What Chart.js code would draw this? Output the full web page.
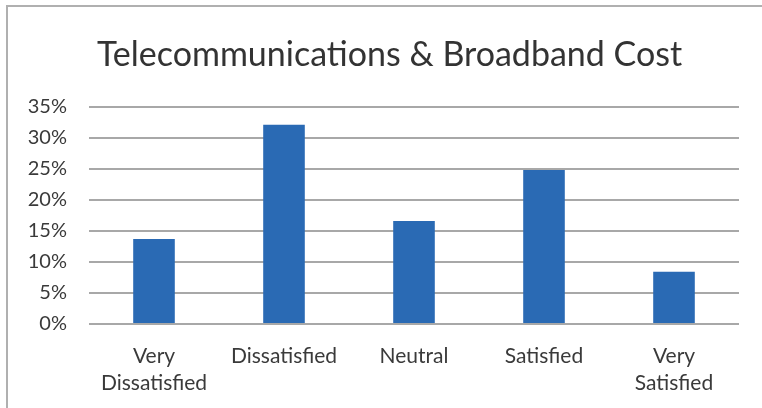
<!DOCTYPE html>
<html>
<head>
<meta charset="utf-8">
<script src="https://cdn.jsdelivr.net/npm/chart.js@4"></script>
<style>
html,body{margin:0;padding:0;background:#fff;}
#wrap{position:relative;width:762px;height:408px;}
#frame{position:absolute;left:6px;top:5px;right:0;bottom:0;border-left:2px solid #b0b0b0;border-top:2px solid #b0b0b0;pointer-events:none;}
</style>
</head>
<body>
<div id="wrap">
<canvas id="c" width="762" height="408"></canvas>
<div id="frame"></div>
</div>
<script>
const chartTitle = 'Telecommunications & Broadband Cost';
const categories = [['Very','Dissatisfied'], 'Dissatisfied', 'Neutral', 'Satisfied', ['Very','Satisfied']];
const percentages = [13.7, 32.1, 16.6, 24.8, 8.4];
const yTicks = [0, 5, 10, 15, 20, 25, 30, 35];

const FONT = 'Lato, "Open Sans", sans-serif';

// shift the title block so it is centred where the reference centres it
const titleShift = {
  id: 'titleShift',
  afterLayout(chart) {
    const t = chart.titleBlock;
    if (t) { t.left += 20; t.right += 20; }
  }
};

new Chart(document.getElementById('c'), {
  type: 'bar',
  data: {
    labels: categories,
    datasets: [{
      data: percentages,
      backgroundColor: '#2a6ab4',
      categoryPercentage: 1.0,
      barPercentage: 0.32
    }]
  },
  plugins: [titleShift],
  options: {
    responsive: false,
    animation: false,
    layout: { padding: { left: 0, right: 23, top: 0, bottom: 0 } },
    plugins: {
      legend: { display: false },
      tooltip: { enabled: false },
      title: {
        display: true,
        text: chartTitle,
        color: '#333333',
        font: { family: FONT, size: 34, weight: 'normal', lineHeight: 1.2 },
        padding: { top: 35, bottom: 31 }
      }
    },
    scales: {
      x: {
        grid: { display: false },
        border: { display: false },
        ticks: {
          color: '#3a3a3a',
          font: { family: FONT, size: 21, lineHeight: 1.28 },
          padding: 11,
          maxRotation: 0,
          autoSkip: false
        },
        afterFit: s => { s.height = 84; }
      },
      y: {
        min: 0,
        max: 35,
        afterBuildTicks: s => { s.ticks = yTicks.map(v => ({ value: v })); },
        grid: { color: '#a8a8a8', lineWidth: 2, drawTicks: false },
        border: { display: false },
        ticks: {
          color: '#3a3a3a',
          font: { family: FONT, size: 20 },
          padding: 22,
          callback: v => v + '%'
        },
        afterFit: s => { s.width = 89; }
      }
    }
  }
});
</script>
</body>
</html>
